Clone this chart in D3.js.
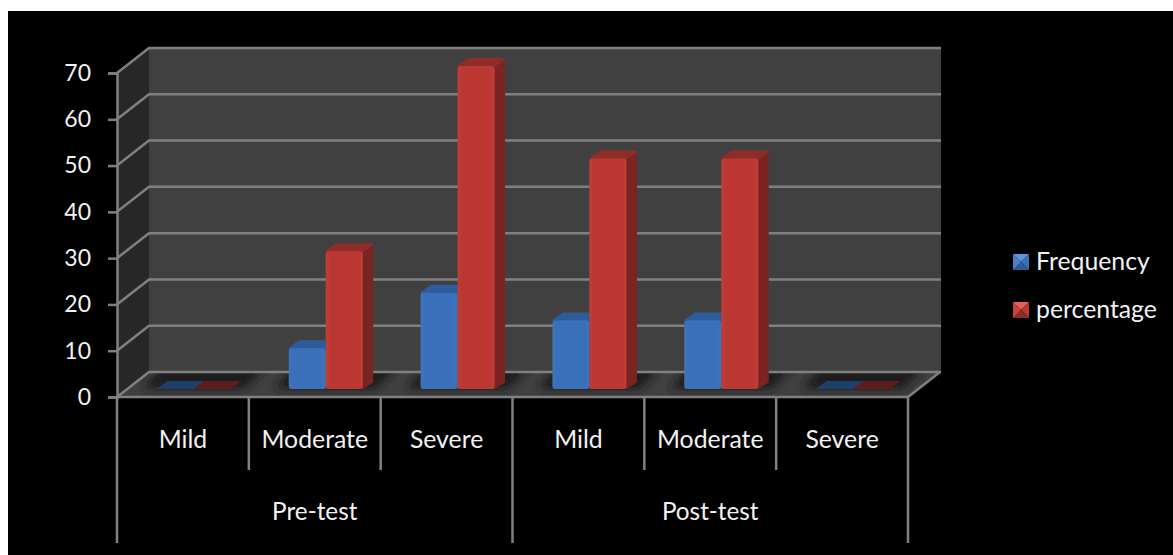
<!DOCTYPE html>
<html>
<head>
<meta charset="utf-8">
<script src="https://cdn.jsdelivr.net/npm/d3@7"></script>
<style>
  html, body { margin: 0; padding: 0; background: #fff; overflow: hidden; }
  text { font-family: Lato, "Open Sans", sans-serif; fill: #f2f2f2; }
</style>
</head>
<body>
<script>
// Chart data
const groups = ["Pre-test", "Post-test"];
const categories = ["Mild", "Moderate", "Severe", "Mild", "Moderate", "Severe"];
const frequency = [0, 9, 21, 15, 15, 0];
const percentage = [0, 30, 70, 50, 50, 0];
const yTicks = [0, 10, 20, 30, 40, 50, 60, 70];
const seriesNames = ["Frequency", "percentage"];

// Layout
const width = 1173, height = 555;
const plotLeft = 117, plotRight = 908, plotTop = 73, plotBottom = 397;
const wallDx = 32, wallDy = -25;   // Depth of the 3d box
const barDx = 10.5, barDy = -8;    // Depth of each bar, and its offset from the front edge
const lineColor = "#808080";

const svg = d3.select("body").append("svg")
    .attr("width", width)
    .attr("height", height)
    .style("display", "block");

// Black panel, the picture has a white strip top and left
svg.append("rect")
    .attr("x", 8).attr("y", 11)
    .attr("width", width - 8).attr("height", height - 11)
    .attr("fill", "#000");

// Scales
const x = d3.scaleBand().domain(d3.range(categories.length)).range([plotLeft, plotRight]);
const y = d3.scaleLinear().domain([0, 70]).range([plotBottom, plotTop]);
const barScale = d3.scaleBand().domain(seriesNames).range([0, 74]);

const poly = (pts) => pts.map(p => p.join(",")).join(" ");

// Gradients for the bars
const defs = svg.append("defs");
function faceGradient(id, edge, mid) {
    const g = defs.append("linearGradient").attr("id", id);
    g.append("stop").attr("offset", "0").attr("stop-color", edge);
    g.append("stop").attr("offset", "0.12").attr("stop-color", mid);
    g.append("stop").attr("offset", "0.88").attr("stop-color", mid);
    g.append("stop").attr("offset", "1").attr("stop-color", edge);
}
faceGradient("faceBlue", "#3f74bc", "#3a70b9");
faceGradient("faceRed", "#c23e38", "#bb3732");
defs.append("filter").attr("id", "floorBlur")
    .attr("x", "-30%").attr("y", "-80%").attr("width", "160%").attr("height", "260%")
    .append("feGaussianBlur").attr("stdDeviation", 4);
defs.append("clipPath").attr("id", "floorClip")
    .append("polygon")
    .attr("points", poly([[plotLeft, plotBottom], [plotLeft + wallDx, plotBottom + wallDy],
        [plotRight + wallDx + 1, plotBottom + wallDy], [plotRight, plotBottom]]));

// Walls and floor
svg.append("polygon")
    .attr("points", poly([[plotLeft + wallDx, plotTop + wallDy], [plotRight + wallDx + 1, plotTop + wallDy],
        [plotRight + wallDx + 1, plotBottom + wallDy], [plotLeft + wallDx, plotBottom + wallDy]]))
    .attr("fill", "#404040");
svg.append("polygon")
    .attr("points", poly([[plotLeft, plotTop], [plotLeft + wallDx, plotTop + wallDy],
        [plotLeft + wallDx, plotBottom + wallDy], [plotLeft, plotBottom]]))
    .attr("fill", "#272727");
svg.append("polygon")
    .attr("points", poly([[plotLeft, plotBottom], [plotLeft + wallDx, plotBottom + wallDy],
        [plotRight + wallDx + 1, plotBottom + wallDy], [plotRight, plotBottom]]))
    .attr("fill", "#404040");

// Soft shadow of each bar pair on the floor
svg.append("g").attr("clip-path", "url(#floorClip)")
    .selectAll("polygon")
    .data(categories)
    .join("polygon")
    .attr("points", (d, i) => {
        const l = x(i) + x.bandwidth() / 2 + barDx - 37;
        const r = l + 74;
        return poly([[l - 14, plotBottom + barDy], [l + 4, plotBottom + wallDy - 4],
            [r + barDx + 24, plotBottom + wallDy - 4], [r + 14, plotBottom + barDy]]);
    })
    .attr("fill", "#1e1e1e")
    .attr("filter", "url(#floorBlur)");

// Gridlines across the side wall and back wall
const grid = svg.append("g")
    .attr("fill", "none")
    .attr("stroke", lineColor)
    .attr("stroke-width", 2.5);
grid.selectAll("polyline")
    .data(yTicks)
    .join("polyline")
    .attr("points", d => poly([[plotLeft, y(d)], [plotLeft + wallDx, y(d) + wallDy], [plotRight + wallDx + 1, y(d) + wallDy]]));
grid.append("line")
    .attr("x1", plotRight).attr("y1", plotBottom)
    .attr("x2", plotRight + wallDx).attr("y2", plotBottom + wallDy);

// Y axis
const yAxis = svg.append("g")
    .attr("transform", `translate(${plotLeft},0)`)
    .call(d3.axisLeft(y).tickValues(yTicks).tickSize(9).tickPadding(17));
yAxis.selectAll("line, path").attr("stroke", lineColor).attr("stroke-width", 2.5);
yAxis.selectAll("text").attr("font-size", 23).style("font-family", "Lato").attr("fill", "#f2f2f2");

// Bars, one column per series per category
function drawBars(values, name, face, side, top, flat) {
    const g = svg.append("g").attr("stroke-linejoin", "round");
    values.forEach((v, i) => {
        const l = x(i) + x.bandwidth() / 2 + barDx - 36.5 + barScale(name);
        const r = l + barScale.bandwidth();
        const base = y(0) + barDy;
        const t = base - (y(0) - y(v)) + 1;
        if (v === 0) {
            g.append("polygon")
                .attr("points", poly([[l, base], [l + barDx, base + barDy], [r + barDx, base + barDy], [r, base]]))
                .attr("fill", flat);
            return;
        }
        g.append("polygon")
            .attr("points", poly([[r, t + 1], [r + barDx - 1, t + barDy + 2], [r + barDx - 1, base + barDy + 1], [r, base - 1]]))
            .attr("fill", side)
            .attr("stroke", side)
            .attr("stroke-width", 2);
        g.append("polygon")
            .attr("points", poly([[l + 1, t], [l + barDx, t + barDy + 1], [r + barDx - 1, t + barDy + 1], [r, t]]))
            .attr("fill", top)
            .attr("stroke", top)
            .attr("stroke-width", 2);
        g.append("rect")
            .attr("x", l).attr("y", t)
            .attr("width", r - l).attr("height", base - t)
            .attr("rx", 3)
            .attr("fill", face);
    });
}
drawBars(frequency, seriesNames[0], "url(#faceBlue)", "#28518a", "#2e5c9a", "#1f3f6b");
drawBars(percentage, seriesNames[1], "url(#faceRed)", "#7a2522", "#8e2c29", "#5c1d1c");

// X axis: category row and group row
const xAxis = svg.append("g").attr("stroke", lineColor).attr("stroke-width", 2.5);
xAxis.append("line")
    .attr("x1", plotLeft).attr("y1", plotBottom)
    .attr("x2", plotRight).attr("y2", plotBottom);
d3.range(categories.length + 1).forEach(i => {
    const px = i < categories.length ? x(i) : plotRight;
    const long = i % 3 === 0;
    xAxis.append("line")
        .attr("x1", px).attr("y1", plotBottom)
        .attr("x2", px).attr("y2", long ? 543 : 470);
});

svg.append("g").selectAll("text")
    .data(categories)
    .join("text")
    .attr("x", (d, i) => x(i) + x.bandwidth() / 2)
    .attr("y", 448)
    .attr("text-anchor", "middle")
    .attr("font-size", 24.8)
    .text(d => d);

svg.append("g").selectAll("text")
    .data(groups)
    .join("text")
    .attr("x", (d, i) => x(i * 3) + x.bandwidth() * 1.5)
    .attr("y", 520)
    .attr("text-anchor", "middle")
    .attr("font-size", 24.3)
    .text(d => d);

// Legend with bevelled markers
const legendColors = [["#5b93dc", "#3a70b9", "#2e5c9a", "#4a80c8"], ["#e0605a", "#bb3732", "#8e2c29", "#c9443e"]];
const legend = svg.append("g").selectAll("g")
    .data(seriesNames)
    .join("g")
    .attr("transform", (d, i) => `translate(1013,${254 + i * 48})`);
legend.each(function (d, i) {
    const s = 16, c = s / 2, g = d3.select(this);
    const tris = [[[0, 0], [s, 0], [c, c]], [[s, 0], [s, s], [c, c]], [[s, s], [0, s], [c, c]], [[0, s], [0, 0], [c, c]]];
    g.selectAll("polygon")
        .data(tris)
        .join("polygon")
        .attr("points", t => poly(t))
        .attr("fill", (t, k) => legendColors[i][k]);
});
legend.append("text")
    .attr("x", 23)
    .attr("y", 16)
    .attr("font-size", 24.8)
    .text(d => d);
</script>
</body>
</html>
